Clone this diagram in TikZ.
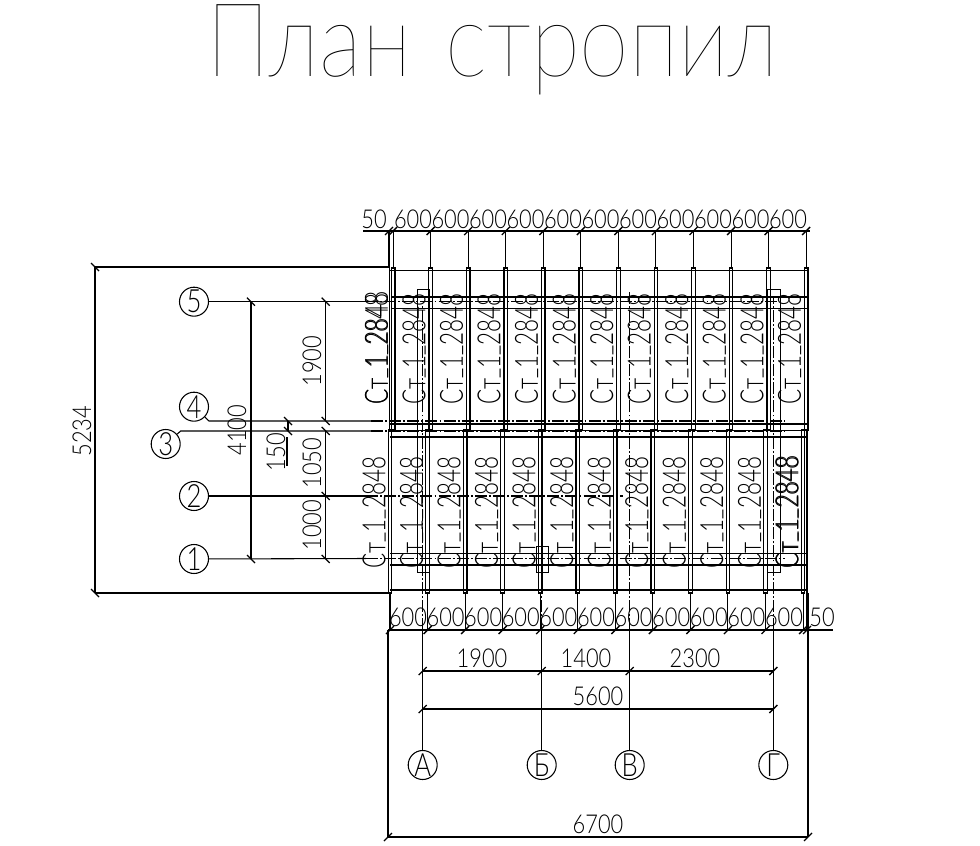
\documentclass[tikz,border=0pt]{standalone}
\usepackage{fontspec}
\setmainfont{Lato}
\newfontfamily\gost[FakeStretch=0.8]{Lato Light}
\newfontfamily\gostnarrow[FakeStretch=0.7]{Lato Light}
\newfontfamily\gostwide[FakeStretch=0.84]{Lato Light}
\newfontfamily\gosttitle{Lato Thin}
\usetikzlibrary{calc}
\newcommand{\us}{\raisebox{3pt}{\_}}
\tikzset{
 x=0.75pt,y=-0.75pt,
 thin line/.style={line width=0.6pt},
 thick line/.style={line width=1.1pt},
 axis line/.style={line width=0.8pt,dash pattern=on 9pt off 1.6pt on 1.4pt off 1.6pt},
 dimline/.style={line width=0.8pt},
 tick/.style={line width=1pt},
 dimtext/.style={inner sep=0pt,font=\gostwide\fontsize{19.5pt}{19.5pt}\selectfont},
 raftlabel/.style={inner sep=0pt,rotate=90,font=\gostnarrow\fontsize{24pt}{24pt}\selectfont},
 bubble/.style={circle,draw,line width=0.8pt,minimum size=21.75pt,inner sep=0pt,font=\gost\fontsize{24pt}{24pt}\selectfont},
 rafter/.style={line width=0.95pt},
 column/.style={line width=0.7pt}
}
\newcommand{\tickh}[2]{\draw[tick] ({#1-4},{#2+4}) -- ({#1+4},{#2-4});}
\newcommand{\tickv}[2]{\draw[tick] ({#1-4},{#2-4}) -- ({#1+4},{#2+4});}
\begin{document}
\begin{tikzpicture}
\useasboundingbox (0,0) rectangle (980,845);
% title
\node[inner sep=0pt,anchor=base,xscale=0.875] (title) at (492.5,77) {\gosttitle\fontsize{77pt}{77pt}\selectfont План\hspace{7pt} стропил};
% rafters, top row
\foreach \i in {0,...,11}{
  \pgfmathsetmacro{\xx}{393.1+37.55*\i}
  \draw[rafter] ({\xx-1.8},268) rectangle ({\xx+1.8},430);
  \draw[dimline] (\xx,231) -- (\xx,268);
  \tickh{\xx}{231}
}
\draw[rafter] (389.5,268) -- (389.5,430);
\draw[dimline] (389,231) -- (389,268);
\tickh{389}{231}
% rafters, bottom row
\foreach \i in {0,...,11}{
  \pgfmathsetmacro{\xx}{390+37.55*\i}
  \draw[rafter] ({\xx-1.8},430) rectangle ({\xx+1.8},593);
  \draw[dimline] (\xx,593) -- (\xx,630);
  \tickh{\xx}{630}
}
\draw[rafter] (807,430) -- (807,593);
\draw[dimline] (807,593) -- (807,630);
\tickh{807}{630}
% horizontal members
\draw[thick line] (390,270.7) -- (808,270.7);
\draw[thick line] (391,297) -- (808,297);
\draw[thin line] (391,308) -- (808,308);
\draw[thick line] (390,424) -- (808,424);
\draw[thin line] (390,430) -- (808,430);
\draw[thick line] (390,437) -- (808,437);
\draw[thin line] (390,553) -- (808,553);
\draw[thick line] (390,565) -- (808,565);
\draw[thick line] (390,590) -- (808,590);
% columns
\draw[column] (417,289) rectangle (429,572);
\draw[column] (767.7,289) rectangle (780,572);
\draw[column] (536,546) rectangle (548,572);
% rafter labels
\foreach \i in {0,...,11}{
  \pgfmathsetmacro{\xx}{376.5+37.55*\i}
  \node[raftlabel] (rt\i) at (\xx,349) {Ст\us 1\us 2848};
  \pgfmathsetmacro{\xx}{374+37.55*\i}
  \node[raftlabel] (rb\i) at (\xx,512.5) {Ст\us 1\us 2848};
}
\node[raftlabel,xscale=1.02,anchor=west] (rtx) at (rt0.west) {Ст\us 1\us 2848};
\node[raftlabel,xscale=1.02,anchor=west] (rbx) at (rb11.west) {Ст\us 1\us 2848};
% axes: bubbles
\node[bubble] (a5) at (194,301.7) {5};
\node[bubble] (a4) at (194,406.7) {4};
\node[bubble] (a3) at (165.7,444) {3};
\node[bubble] (a2) at (194,496) {2};
\node[bubble] (a1) at (194,559) {1};
\node[bubble] (aA) at (422.7,765) {А};
\node[bubble] (aB) at (541.7,765) {Б};
\node[bubble] (aV) at (629.7,765) {В};
\node[bubble] (aG) at (773.3,765) {Г};
% axes: horizontal
\coordinate (e5) at (366,301.7);
\coordinate (e4) at (371,421);
\coordinate (e3) at (371,431);
\coordinate (e2) at (366,496);
\coordinate (e1) at (366,558.5);
\draw[dimline] (a5) -- (e5);
\draw[dimline] (a4) -- (209,421) -- (e4);
\draw[dimline] (a3) -- (180.7,431) -- (e3);
\draw[dimline] (a2) -- (e2);
\draw[dimline] (a1) -- (e1);
\draw[axis line] (e5) -- (778,301.7);
\draw[axis line] (e4) -- (785,421);
\draw[axis line] (e3) -- (785,431);
\draw[axis line] (e2) -- (623,496);
\draw[axis line] (e1) -- (785,558.5);
% axes: vertical
\coordinate (fA) at (422.7,630);
\coordinate (fB) at (541.7,630);
\coordinate (fV) at (629.7,630);
\coordinate (fG) at (773.3,630);
\draw[dimline] (aA) -- (fA);
\draw[dimline] (aB) -- (fB);
\draw[dimline] (aV) -- (fV);
\draw[dimline] (aG) -- (fG);
\draw[axis line] (fA) -- (422.7,305);
\draw[axis line] (fB) -- (541.7,545);
\draw[axis line] (fV) -- (629.7,290);
\draw[axis line] (fG) -- (773.3,297);
% top and bottom chains
\draw[dimline] (363,231) -- (810,231);
\draw[dimline] (388,630) -- (833,630);
\node[dimtext] (t50) at (374,219) {50};
\foreach \i in {0,...,10}{
  \pgfmathsetmacro{\xx}{413+37.5*\i}
  \node[dimtext] (tt\i) at (\xx,219) {600};
  \pgfmathsetmacro{\xx}{408+37.6*\i}
  \node[dimtext] (tb\i) at (\xx,617) {600};
}
\node[dimtext] (b50) at (822,617) {50};
% dims under the plan
\draw[dimline] (422.7,671) -- (773.3,671);
\draw[dimline] (422.7,709) -- (773.3,709);
\foreach \xx in {422.7,541.7,629.7,773.3}{\tickh{\xx}{671}}
\tickh{422.7}{709}
\tickh{773.3}{709}
\node[dimtext] (d1900) at (482,658) {1900};
\node[dimtext] (d1400) at (586,658) {1400};
\node[dimtext] (d2300) at (695,658) {2300};
\node[dimtext] (d5600) at (598,696) {5600};
\node[dimtext] (d6700) at (598,824) {6700};
\draw[dimline] (388,630) -- (388,837);
\draw[dimline] (808,593) -- (808,837);
\draw[dimline] (388,837) -- (808,837);
\tickh{388}{837}
\tickh{808}{837}
% dims left of the plan
\draw[dimline] (95,267) -- (388,267);
\draw[dimline] (95,593) -- (388,593);
\draw[dimline] (95,267) -- (95,593);
\tickv{95}{267}
\tickv{95}{593}
\node[dimtext,rotate=90] (d5234) at (82,431) {5234};
\draw[dimline] (251,301.7) -- (251,559);
\tickv{251}{301.7}
\tickv{251}{559}
\node[dimtext,rotate=90] (d4100) at (237,430) {4100};
\draw[dimline] (325.7,301.7) -- (325.7,421);
\draw[dimline] (325.7,431) -- (325.7,559);
\foreach \yy in {301.7,421,431,496,559}{\tickv{325.7}{\yy}}
\node[dimtext,rotate=90] (d1900v) at (312,361) {1900};
\node[dimtext,rotate=90] (d1050) at (312,463) {1050};
\node[dimtext,rotate=90] (d1000) at (312,525) {1000};
\draw[dimline] (288,421) -- (288,431);
\tickv{288}{421}
\tickv{288}{431}
\node[dimtext,rotate=90] (d150) at (276,452) {150};
\draw[dimline] (287,437) -- (287,466);
\end{tikzpicture}
\end{document}
